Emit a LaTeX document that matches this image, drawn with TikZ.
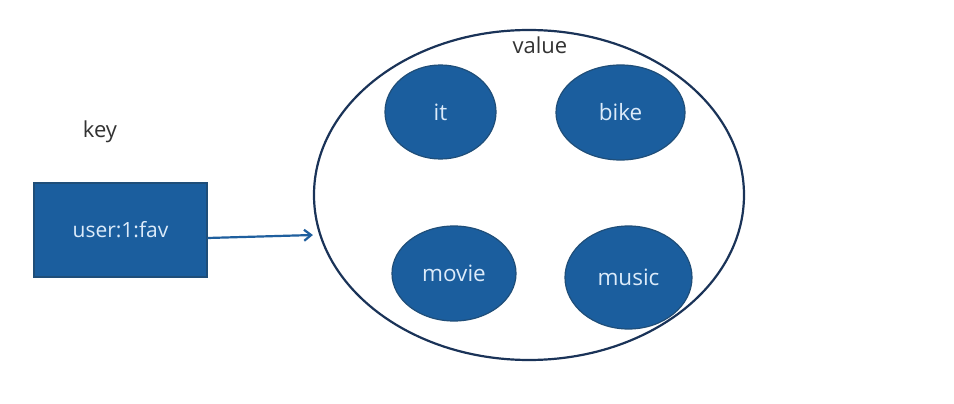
\documentclass[tikz,border=0pt]{standalone}
\usepackage{fontspec}
\setmainfont{Open Sans}
\usetikzlibrary{shapes.geometric,arrows.meta}
\definecolor{boxfill}{HTML}{1B5E9E}
\definecolor{boxline}{HTML}{1F4E79}
\definecolor{navy}{HTML}{1A3358}
\definecolor{lighttxt}{HTML}{DCEBFA}
\definecolor{darktxt}{HTML}{333333}
\definecolor{arrowc}{HTML}{1F5F9E}
\tikzset{
  blob/.style={ellipse, fill=boxfill, draw=boxline, line width=1.2pt, text=lighttxt, font=\fontsize{22.5}{26}\selectfont, inner sep=0pt},
  keybox/.style={rectangle, fill=boxfill, draw=boxline, line width=1.2pt, text=lighttxt, font=\fontsize{21}{24}\selectfont, minimum width=173pt, minimum height=94pt, inner sep=0pt},
  plain/.style={text=darktxt, font=\fontsize{22}{26}\selectfont, inner sep=0pt},
  outer/.style={ellipse, draw=navy, line width=2.2pt, inner sep=0pt},
  link/.style={draw=arrowc, line width=2.2pt, -{Straight Barb[length=7pt,width=11pt]}}
}
\begin{document}
\begin{tikzpicture}[x=1pt,y=-1pt]
\useasboundingbox (0,0) rectangle (954,404);
\fill[white] (0,0) rectangle (954,404);
\node[outer, minimum width=430pt, minimum height=330pt] (val) at (529,195) {};
\node[plain] (valuelbl) at (540,45) {value};
\node[plain] (keylbl) at (100,132) {key};
\node[keybox] (key) at (120.5,230) {user:1:fav};
\node[blob, minimum width=111pt, minimum height=94pt] (it) at (440.5,112) {it};
\node[blob, minimum width=129pt, minimum height=95pt] (bike) at (620.5,112.5) {bike};
\node[blob, minimum width=124pt, minimum height=95pt] (movie) at (454,273.5) {movie};
\node[blob, minimum width=127pt, minimum height=103pt] (music) at (628.5,277.5) {music};
\draw[link] (key.east |- 0,238) -- (val.west |- 0,235);
\end{tikzpicture}
\end{document}
